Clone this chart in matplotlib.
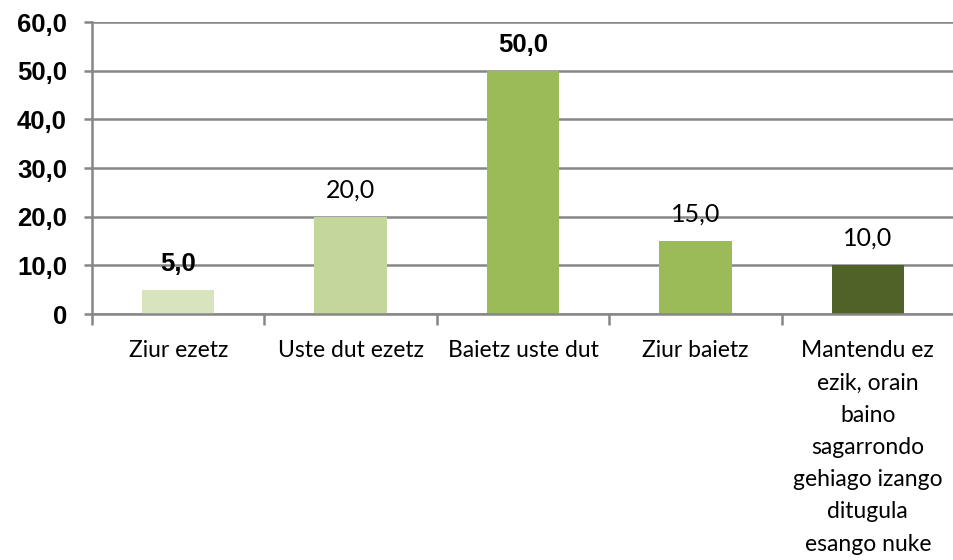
import matplotlib
matplotlib.use("Agg")
import matplotlib.pyplot as plt
import numpy as np

categories = [
    "Ziur ezetz",
    "Uste dut ezetz",
    "Baietz uste dut",
    "Ziur baietz",
    "Mantendu ez\nezik, orain\nbaino\nsagarrondo\ngehiago izango\nditugula\nesango nuke",
]
values = [5.0, 20.0, 50.0, 15.0, 10.0]
bar_colors = ["#d7e4bd", "#c3d69b", "#9bbb59", "#9bbb59", "#4f6228"]
label_large = [True, False, True, False, False]
y_ticks = [0, 10, 20, 30, 40, 50, 60]
y_tick_labels = ["0", "10,0", "20,0", "30,0", "40,0", "50,0", "60,0"]

grey = "#878787"

fig = plt.figure(figsize=(9.54, 5.60), dpi=100)
ax = fig.add_axes([92 / 954, (560 - 314) / 560, (954 - 92) / 954, (314 - 22) / 560])

x = np.arange(len(categories))
ax.bar(x, values, width=0.42, color=bar_colors, zorder=3)

ax.set_xlim(-0.5, len(categories) - 0.5)
ax.set_ylim(0, 60)

# horizontal gridlines
ax.set_yticks(y_ticks)
ax.set_yticklabels(y_tick_labels, family="Liberation Sans", fontweight="bold", fontsize=18.5)
ax.yaxis.grid(True, color=grey, linewidth=1.8, zorder=1)
ax.tick_params(axis="y", direction="out", length=6, width=1.8, color=grey, pad=12)

# category separators as major ticks, labels on minor ticks
ax.set_xticks(np.arange(len(categories) + 1) - 0.5)
ax.set_xticklabels([])
ax.tick_params(axis="x", which="major", direction="out", length=8, width=1.8, color=grey)
ax.set_xticks(x, minor=True)
ax.set_xticklabels(categories, minor=True, family="Lato", fontsize=16.5, linespacing=1.66, va="top")
ax.tick_params(axis="x", which="minor", length=0, pad=19)

for side in ["top", "right"]:
    ax.spines[side].set_visible(False)
for side in ["left", "bottom"]:
    ax.spines[side].set_color(grey)
    ax.spines[side].set_linewidth(1.8)
    ax.spines[side].set_zorder(4)

for xi, v, big in zip(x, values, label_large):
    txt = f"{v:.1f}".replace(".", ",")
    if big:
        ax.annotate(txt, (xi, v), xytext=(0, 10), textcoords="offset points",
                    ha="center", va="bottom", family="Liberation Sans",
                    fontweight="bold", fontsize=18.5, zorder=5)
    else:
        ax.annotate(txt, (xi, v), xytext=(0, 11), textcoords="offset points",
                    ha="center", va="bottom", family="Lato", fontsize=18, zorder=5)

fig.savefig("out.png", dpi=100)
